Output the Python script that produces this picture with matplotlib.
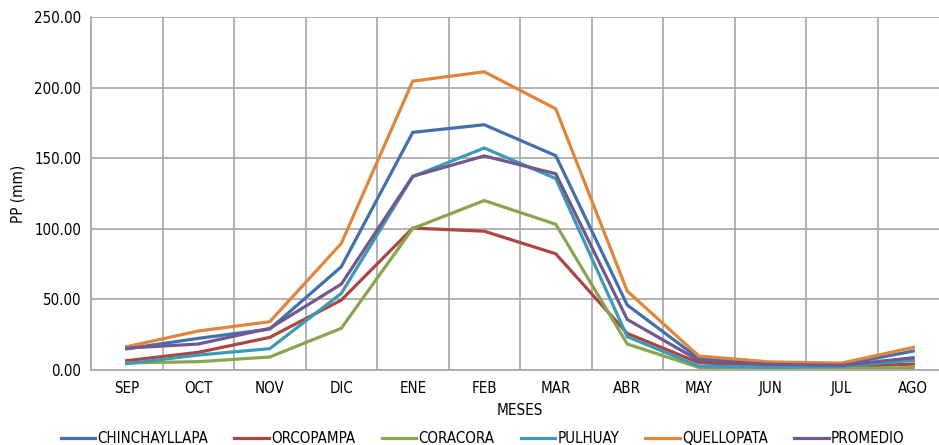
import matplotlib.pyplot as plt
import numpy as np

meses = ["SEP", "OCT", "NOV", "DIC", "ENE", "FEB", "MAR", "ABR", "MAY", "JUN", "JUL", "AGO"]

chinchayllapa = [15.0, 22.4, 29.0, 73.1, 168.3, 173.7, 151.8, 46.0, 8.2, 4.0, 3.8, 13.4]
orcopampa = [6.6, 12.5, 23.1, 49.5, 100.5, 98.3, 82.3, 25.9, 5.2, 3.0, 2.3, 4.2]
coracora = [5.0, 5.9, 9.2, 29.5, 100.2, 120.0, 103.2, 18.4, 1.9, 1.0, 1.1, 1.7]
pulhuay = [4.5, 10.6, 15.1, 54.2, 137.0, 157.2, 135.6, 23.6, 2.8, 2.0, 2.6, 6.8]
quellopata = [16.5, 27.6, 34.2, 89.6, 204.6, 211.2, 185.0, 55.9, 9.9, 5.7, 4.9, 16.0]
promedio = [15.5, 18.4, 29.5, 60.8, 137.2, 151.6, 139.0, 35.8, 6.8, 4.0, 3.3, 8.7]

series = [
    ("CHINCHAYLLAPA", chinchayllapa, "#4170AD"),
    ("ORCOPAMPA", orcopampa, "#AA4643"),
    ("CORACORA", coracora, "#89A54E"),
    ("PULHUAY", pulhuay, "#3D9AB4"),
    ("QUELLOPATA", quellopata, "#E0853A"),
    ("PROMEDIO", promedio, "#71588F"),
]

plt.rcParams['font.family'] = ['DejaVu Sans']
plt.rcParams['font.stretch'] = 'condensed'

fig = plt.figure(figsize=(9.39, 4.45), dpi=100)
ax = fig.add_axes([91 / 939, 75 / 445, 858 / 939, 353 / 445])

x = np.arange(len(meses))
for name, vals, color in series:
    ax.plot(x, vals, color=color, lw=2.3, label=name, solid_joinstyle='miter')

ax.set_xlim(-0.5, len(meses) - 0.5)
ax.set_ylim(0, 250)
ax.set_yticks(np.arange(0, 251, 50))
ax.set_yticklabels([f"{v:.2f}" for v in np.arange(0, 251, 50)], fontsize=10.8)
ax.set_xticks(x)
ax.set_xticklabels(meses, fontsize=10.8)
ax.set_xticks(np.arange(-0.5, len(meses), 1), minor=True)
ax.tick_params(axis='x', which='both', length=0, pad=8)
ax.tick_params(axis='y', length=0, pad=7)

ax.grid(True, axis='y', color='#A6A6A6', lw=1.2)
ax.grid(True, axis='x', which='minor', color='#A6A6A6', lw=1.2)
ax.grid(False, axis='x', which='major')
ax.set_axisbelow(True)
for side in ['top', 'right']:
    ax.spines[side].set_visible(False)
for side in ['left', 'bottom']:
    ax.spines[side].set_color('#A6A6A6')
    ax.spines[side].set_linewidth(1.2)

ax.set_ylabel("PP (mm)", fontsize=11, labelpad=6)
ax.set_xlabel("MESES", fontsize=11, labelpad=5)

fig.legend(loc='lower center', bbox_to_anchor=(0.514, -0.033), ncol=6, frameon=False,
           fontsize=10.8, handlelength=2.3, handletextpad=0.15, columnspacing=1.75)

fig.savefig("out.png", dpi=100)
